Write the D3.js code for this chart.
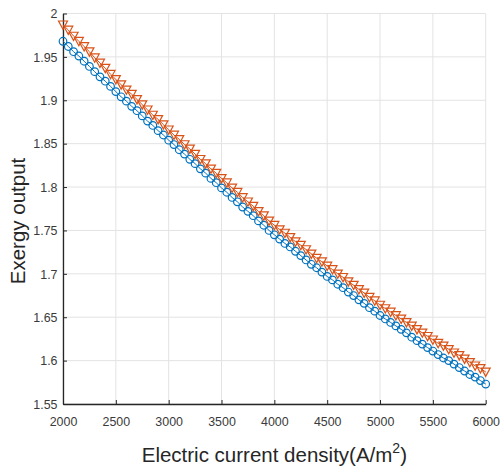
<!DOCTYPE html>
<html><head><meta charset="utf-8">
<script src="https://cdn.jsdelivr.net/npm/d3@7"></script>
<style>body{margin:0;background:#fff}svg{display:block}</style>
</head><body>
<svg id="c" width="501" height="472"></svg>
<script>
const currentDensity = [2000,2050,2100,2150,2200,2250,2300,2350,2400,2450,2500,2550,2600,2650,2700,2750,2800,2850,2900,2950,3000,3050,3100,3150,3200,3250,3300,3350,3400,3450,3500,3550,3600,3650,3700,3750,3800,3850,3900,3950,4000,4050,4100,4150,4200,4250,4300,4350,4400,4450,4500,4550,4600,4650,4700,4750,4800,4850,4900,4950,5000,5050,5100,5150,5200,5250,5300,5350,5400,5450,5500,5550,5600,5650,5700,5750,5800,5850,5900,5950,6000];
const seriesCircle = [1.968,1.962,1.956,1.951,1.945,1.939,1.933,1.927,1.922,1.916,1.910,1.904,1.899,1.893,1.888,1.882,1.876,1.871,1.865,1.860,1.854,1.849,1.843,1.838,1.832,1.827,1.821,1.816,1.810,1.805,1.799,1.794,1.788,1.783,1.777,1.772,1.767,1.761,1.756,1.750,1.745,1.740,1.735,1.731,1.726,1.721,1.716,1.711,1.707,1.702,1.697,1.693,1.688,1.684,1.679,1.675,1.670,1.666,1.661,1.657,1.652,1.648,1.644,1.640,1.636,1.632,1.627,1.623,1.619,1.615,1.611,1.607,1.603,1.600,1.596,1.592,1.588,1.584,1.581,1.577,1.573];
const seriesTriangle = [1.987,1.981,1.974,1.968,1.962,1.956,1.949,1.943,1.937,1.930,1.924,1.918,1.912,1.907,1.901,1.895,1.889,1.883,1.878,1.872,1.866,1.860,1.855,1.849,1.844,1.838,1.832,1.827,1.821,1.816,1.810,1.805,1.799,1.794,1.788,1.783,1.778,1.772,1.767,1.761,1.756,1.751,1.747,1.742,1.737,1.733,1.728,1.723,1.718,1.714,1.709,1.705,1.700,1.696,1.691,1.687,1.682,1.678,1.673,1.669,1.664,1.660,1.656,1.652,1.648,1.644,1.640,1.636,1.632,1.628,1.624,1.620,1.617,1.613,1.609,1.606,1.602,1.598,1.594,1.591,1.587];
const xTicks = [2000,2500,3000,3500,4000,4500,5000,5500,6000];
const yTicks = [1.55,1.6,1.65,1.7,1.75,1.8,1.85,1.9,1.95,2];
const xLabel = "Electric current density(A/m";
const yLabel = "Exergy output";

const L = 63, R = 485.7, T = 13.5, B = 404;
const svg = d3.select("#c");
const x = d3.scaleLinear().domain([2000,6000]).range([L,R]);
const y = d3.scaleLinear().domain([1.55,2]).range([B,T]);
const font = "'Liberation Sans', Arial, Helvetica, sans-serif";

// grid
const g = svg.append("g");
g.selectAll(".gx").data(xTicks).enter().append("line")
  .attr("x1", d=>x(d)).attr("x2", d=>x(d)).attr("y1", T).attr("y2", B)
  .attr("stroke", "#e3e3e3").attr("stroke-width", 1);
g.selectAll(".gy").data(yTicks).enter().append("line")
  .attr("y1", d=>y(d)).attr("y2", d=>y(d)).attr("x1", L).attr("x2", R)
  .attr("stroke", "#e3e3e3").attr("stroke-width", 1);

// axes
const xAxis = d3.axisBottom(x).tickValues(xTicks).tickSizeInner(-4).tickSizeOuter(0).tickPadding(12).tickFormat(d3.format("d"));
const yAxis = d3.axisLeft(y).tickValues(yTicks).tickSizeInner(-4).tickSizeOuter(0).tickPadding(6).tickFormat(d=>String(+d.toFixed(2)));
const gx = svg.append("g").attr("transform", `translate(0,${B})`).call(xAxis);
const gy = svg.append("g").attr("transform", `translate(${L},0)`).call(yAxis);
[gx, gy].forEach(a => {
  a.select(".domain").attr("stroke", "#262626").attr("stroke-width", 1.3);
  a.selectAll(".tick line").attr("stroke", "#262626").attr("stroke-width", 1);
  a.selectAll(".tick text").attr("fill", "#3a3a3a").style("font-family", font).style("font-size", "13.5px")
    .attr("transform", "scale(0.92,1)");
});
gx.selectAll(".tick text").attr("transform", null).attr("textLength", null);
gx.selectAll(".tick text").style("font-size","13.5px").each(function(){ d3.select(this).attr("transform","scale(0.92,1)"); });

// series
const pts1 = currentDensity.map((d,i)=>[d, seriesCircle[i]]);
const pts2 = currentDensity.map((d,i)=>[d, seriesTriangle[i]]);
const line = d3.line().x(d=>x(d[0])).y(d=>y(d[1]));
svg.append("path").datum(pts1).attr("d", line).attr("fill","none").attr("stroke","#0072BD").attr("stroke-width",1);
svg.append("g").selectAll("circle").data(pts1).enter().append("circle")
  .attr("cx", d=>x(d[0])).attr("cy", d=>y(d[1])).attr("r", 3.8)
  .attr("fill","none").attr("stroke","#0072BD").attr("stroke-width",1.2);
svg.append("path").datum(pts2).attr("d", line).attr("fill","none").attr("stroke","#D95319").attr("stroke-width",1);
svg.append("g").selectAll("path.tri").data(pts2).enter().append("path")
  .attr("d", d=>{const cx=x(d[0]), cy=y(d[1]); return `M${cx-4.5},${cy-3.8}L${cx+4.5},${cy-3.8}L${cx},${cy+4.5}Z`;})
  .attr("fill","none").attr("stroke","#D95319").attr("stroke-width",1.2);

// labels
const xl = svg.append("text").attr("x", (L+R)/2).attr("y", 462).attr("text-anchor","middle")
  .style("font-family", font).style("font-size","20.5px").attr("fill","#262626");
xl.append("tspan").text(xLabel);
xl.append("tspan").attr("dy", -9).style("font-size","14px").text("2");
xl.append("tspan").attr("dy", 9).text(")");
svg.append("text").attr("transform", `translate(25,221) rotate(-90)`).attr("text-anchor","middle")
  .style("font-family", font).style("font-size","20.5px").attr("fill","#262626").text(yLabel);
</script>
</body></html>
